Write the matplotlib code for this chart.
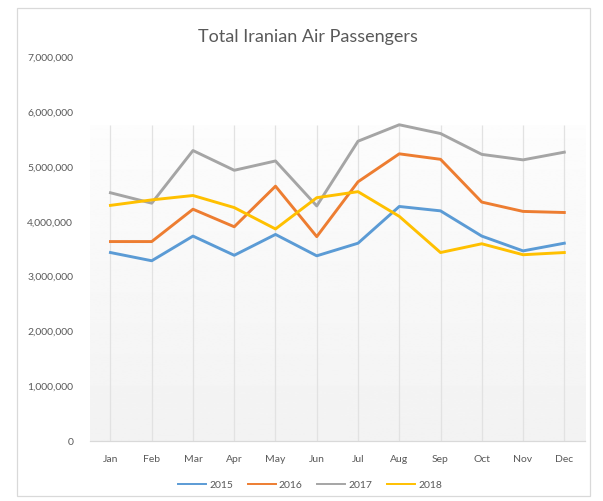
import numpy as np
import matplotlib
matplotlib.use("Agg")
import matplotlib.pyplot as plt
from matplotlib.patches import Rectangle
from matplotlib.ticker import FuncFormatter

months = ['Jan', 'Feb', 'Mar', 'Apr', 'May', 'Jun', 'Jul', 'Aug', 'Sep', 'Oct', 'Nov', 'Dec']
years = ['2015', '2016', '2017', '2018']

# passengers per month, in millions
p2015 = [3.44, 3.29, 3.74, 3.39, 3.77, 3.38, 3.61, 4.28, 4.20, 3.74, 3.47, 3.61]
p2016 = [3.64, 3.64, 4.23, 3.91, 4.65, 3.73, 4.73, 5.24, 5.14, 4.36, 4.19, 4.17]
p2017 = [4.53, 4.34, 5.30, 4.94, 5.11, 4.29, 5.47, 5.77, 5.61, 5.23, 5.13, 5.27]
p2018 = [4.30, 4.40, 4.48, 4.26, 3.87, 4.44, 4.55, 4.10, 3.44, 3.60, 3.40, 3.44]

colores = ['#5B9BD5', '#ED7D31', '#A5A5A5', '#FFC000']
series = [p2015, p2016, p2017, p2018]

plt.rcParams['font.family'] = ['Lato', 'DejaVu Sans']

fig = plt.figure(figsize=(6.03, 5.01), dpi=100)
ax = fig.add_axes([0.149, 0.1194, 0.821, 0.7662])

x = np.arange(len(months))
fondo_top = 5.76e6

# fondo degradado del area de trazado (blanco arriba, gris claro abajo)
grad = np.linspace(0.99, 0.95, 256).reshape(-1, 1)
ax.imshow(grad, cmap='gray', vmin=0, vmax=1, aspect='auto',
          extent=(-0.5, 11.5, 0, fondo_top), origin='upper', zorder=0)
ax.vlines(x, 0, fondo_top, color='#e2e2e2', lw=0.9, zorder=1)

for anio, valores, c in zip(years, series, colores):
    ax.plot(x, np.array(valores) * 1e6, color=c, lw=2.1, label=anio,
            solid_joinstyle='round', zorder=3)

ax.set_xlim(-0.5, 11.5)
ax.set_ylim(0, 7e6)
ax.set_yticks(np.arange(0, 7.5e6, 1e6))
ax.yaxis.set_major_formatter(FuncFormatter(lambda v, p: f'{int(v):,}'))
ax.set_xticks(x)
ax.set_xticklabels(months)
ax.tick_params(length=0, labelsize=7.5, colors='#595959', pad=12)
ax.tick_params(axis='x', pad=10)

for s in ['top', 'right', 'left']:
    ax.spines[s].set_visible(False)
ax.spines['bottom'].set_color('#d9d9d9')
ax.spines['bottom'].set_linewidth(0.9)

fig.text(0.51, 0.927, 'Total Iranian Air Passengers', ha='center', va='center',
         fontsize=13, color='#595959')

leg = fig.legend(loc='center', bbox_to_anchor=(0.514, 0.031), ncol=4, frameon=False,
                 fontsize=7.5, labelcolor='#595959', handlelength=2.7,
                 handletextpad=0.3, columnspacing=1.4)
for linea in leg.get_lines():
    linea.set_linewidth(1.4)

# borde exterior del grafico
fig.patches.append(Rectangle((17 / 603, 1 - 496 / 501), 573 / 603, 488 / 501,
                             transform=fig.transFigure, fill=False,
                             edgecolor='#d9d9d9', lw=0.9))

fig.savefig('out.png', dpi=100, facecolor='white')
